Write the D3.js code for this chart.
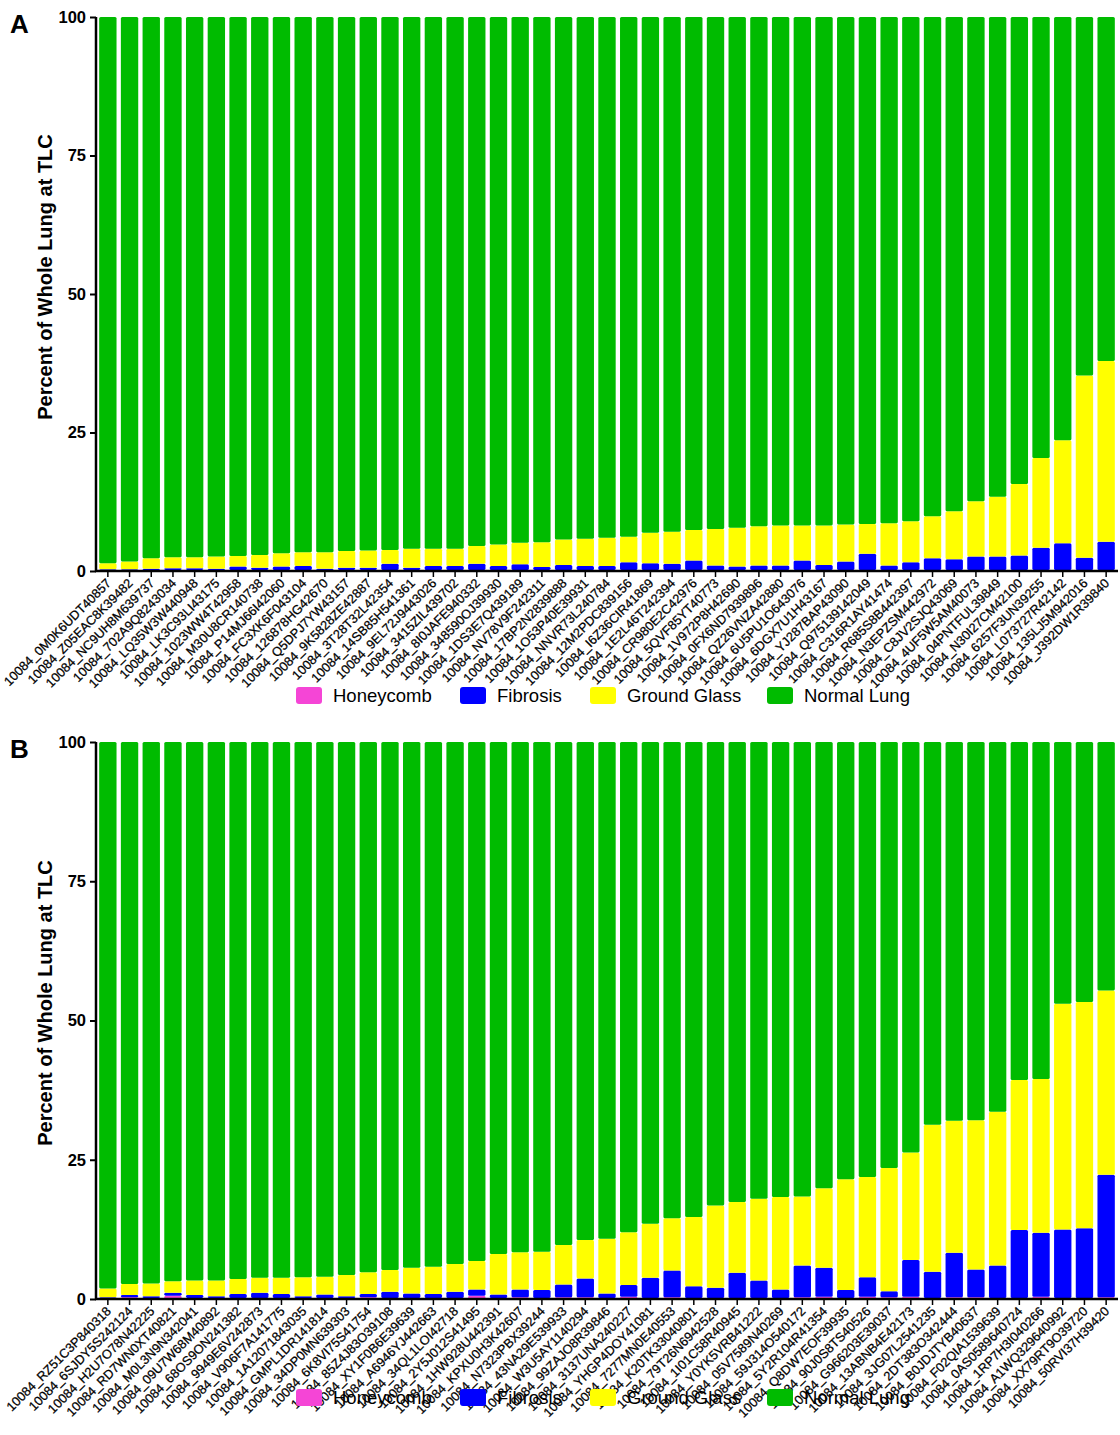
<!DOCTYPE html>
<html>
<head>
<meta charset="utf-8">
<script src="https://cdn.jsdelivr.net/npm/d3@7"></script>
<style>
  body { margin: 0; background: #fff; }
  text { font-family: "Liberation Sans", Arial, sans-serif; }
</style>
</head>
<body>
<script>
// panel A subjects and values (percent of whole lung)
var subjectsA = ["10084_0M0K6UDT40857","10084_Z05EAC8K39482","10084_NC9UH8M639737","10084_702A9Q8243034","10084_LQ35W3W440948","10084_LK3C93LI43175","10084_1023WW4T42958","10084_M30U8CR140738","10084_P14MJ66I42060","10084_FC3XK6F043104","10084_126878HG42670","10084_Q5DPJ7YW43157","10084_9K5828ZE42887","10084_3T28T32L42354","10084_14SB85H541361","10084_9EL72J9443026","10084_3415ZIL439702","10084_8I0JAFE940332","10084_348590OJ39930","10084_1DS3E7Q439189","10084_NV78V9F242311","10084_17BP2N2839888","10084_1O53P40E39931","10084_NNVR73L240784","10084_12M2PDC839156","10084_I6Z36CIR41869","10084_1E2L46T242394","10084_CR980E2C42976","10084_5QVF85YT40773","10084_1V972P8H42690","10084_0FX6ND7939896","10084_QZ26VNZA42880","10084_6U5PU1O643076","10084_6DGX7U1H43167","10084_YJ287BAP43090","10084_Q975139142049","10084_C316R1AY41474","10084_R685S8B442397","10084_N3EPZSM442972","10084_C8JV2SJQ43069","10084_4UF5W5AM40073","10084_04PNTFUL39849","10084_N30I27CM42100","10084_6257F3UN39255","10084_L073727R42142","10084_135LJ5M942016","10084_J392DW1R39840"];
var honeycombA = [0.2,0.2,0.2,0.2,0.2,0.2,0.2,0.2,0.2,0.2, 0.2,0.2,0.2,0.2,0.2,0.2,0.2,0.2,0.2,0.2, 0.2,0.2,0.2,0.2,0.2,0.2,0.2,0.2,0.2,0.2, 0.2,0.2,0.2,0.2,0.2,0.2,0.2,0.2,0.2,0.2, 0.2,0.2,0.2,0.2,0.2,0.2,0.2];
var fibrosisA = [0.1,0.1,0.2,0.3,0.3,0.2,0.6,0.4,0.6,0.7, 0.2,0.4,0.4,1.1,0.4,0.7,0.7,1.1,0.7,1.0, 0.5,0.9,0.7,0.7,1.4,1.2,1.1,1.7,0.8,0.6, 0.8,0.8,1.7,0.9,1.5,2.9,0.8,1.4,2.1,1.9, 2.4,2.4,2.6,4.0,4.8,2.2,5.1];
var groundGlassA = [1.1,1.4,1.9,2.0,2.0,2.2,1.9,2.3,2.4,2.5, 3.0,3.0,3.1,2.5,3.4,3.1,3.1,3.2,3.9,3.9, 4.5,4.6,4.9,5.1,4.6,5.5,5.8,5.5,6.6,7.0, 7.1,7.2,6.3,7.1,6.7,5.4,7.6,7.4,7.6,8.7, 10.0,10.8,12.9,16.2,18.6,32.9,32.6];
var normalA = [98.6,98.3,97.7,97.5,97.5,97.4,97.3,97.1,96.8,96.6, 96.6,96.4,96.3,96.2,96.0,96.0,96.0,95.5,95.2,94.9, 94.8,94.3,94.2,94.0,93.8,93.1,92.9,92.6,92.4,92.2, 91.9,91.8,91.8,91.8,91.6,91.5,91.4,91.0,90.1,89.2, 87.4,86.6,84.3,79.6,76.4,64.7,62.1];

// panel B subjects and values
var subjectsB = ["10084_RZ51C3P840318","10084_6SJDY5S242124","10084_H2U7O78N42225","10084_RD7WN0XT40821","10084_M0L3N9N342041","10084_09U7W68M40892","10084_68OS9ON241382","10084_9949E6V242873","10084_V906F7A141775","10084_1A12071843035","10084_GMPL1DR141814","10084_34DP0MN639303","10084_6K8VI75S41754","10084_85Z4J83O39108","10084_XY1F0B6E39639","10084_A6946YJ442663","10084_34QL1LOI42718","10084_2Y5J012S41495","10084_1HW928U442391","10084_KPXU0H3K42607","10084_N7323PBX39244","10084_43NA29E539933","10084_W3U5AY1140294","10084_99ZAJO8R39846","10084_3137UNA240227","10084_YHGP4DOY41081","10084_7277MN0E40553","10084_K20TK33040801","10084_79T26N6942528","10084_1I01C58R40945","10084_Y0YK5VRB41222","10084_05V7589N40269","10084_59J314O540172","10084_5Y2R104R41354","10084_Q8DW7EOF39935","10084_90J0S8TS40526","10084_G966203E39037","10084_13ABNB4E42173","10084_3JG07L2541235","10084_2DT383O342444","10084_B0JDJTYB40637","10084_F02QIA1539639","10084_0AS0589640724","10084_1RP7H3I040266","10084_A1WQ329640992","10084_XX79RT9O39720","10084_50RVI37H39420"];
var honeycombB = [0.2,0.3,0.2,0.6,0.2,0.2,0.2,0.2,0.2,0.2, 0.2,0.2,0.3,0.2,0.2,0.2,0.2,0.6,0.2,0.3, 0.2,0.3,0.3,0.2,0.4,0.2,0.3,0.2,0.2,0.2, 0.2,0.2,0.3,0.4,0.2,0.4,0.3,0.4,0.2,0.3, 0.3,0.2,0.2,0.4,0.2,0.2,0.3];
var fibrosisB = [0.1,0.4,0.3,0.5,0.5,0.3,0.7,0.9,0.7,0.3, 0.6,0.3,0.6,1.1,0.8,0.7,1.1,1.1,0.6,1.4, 1.4,2.3,3.4,0.8,2.1,3.6,4.8,2.1,1.8,4.5, 3.1,1.5,5.7,5.2,1.4,3.5,1.1,6.6,4.7,8.0, 5.0,5.8,12.2,11.5,12.3,12.5,22.0];
var groundGlassB = [1.6,2.0,2.3,2.1,2.6,2.8,2.7,2.7,2.9,3.4, 3.2,3.8,3.9,3.9,4.6,4.9,5.0,5.1,7.3,6.7, 6.9,7.1,6.9,9.8,9.5,9.7,9.4,12.4,14.8,12.7, 14.7,16.6,12.4,14.3,19.9,18.0,22.1,19.3,26.4,23.7, 26.8,27.6,26.9,27.6,40.5,40.6,33.1];
var normalB = [98.1,97.3,97.2,96.8,96.7,96.7,96.4,96.2,96.2,96.1, 96.0,95.7,95.2,94.8,94.4,94.2,93.7,93.2,91.9,91.6, 91.5,90.3,89.4,89.2,88.0,86.5,85.5,85.3,83.2,82.6, 82.0,81.7,81.6,80.1,78.5,78.1,76.5,73.7,68.7,68.0, 67.9,66.4,60.7,60.5,47.0,46.7,44.6];

var yTicks = [0, 25, 50, 75, 100];
var keys = ["Honeycomb", "Fibrosis", "Ground Glass", "Normal Lung"];
var colors = ["#f545d6", "#0000ff", "#ffff00", "#00bb00"];

var W = 1120, H = 1435;
var svg = d3.select("body").append("svg")
  .attr("width", W)
  .attr("height", H);

var color = d3.scaleOrdinal().domain(keys).range(colors);

function panel(letter, subjects, series, top, bottom, legendY, titleY) {
  var rows = subjects.map(function(s, i) {
    var r = { id: s };
    keys.forEach(function(k, j) { r[k] = series[j][i]; });
    return r;
  });

  var x = d3.scaleBand()
    .domain(subjects)
    .range([97, 1117])
    .paddingInner(0.2)
    .paddingOuter(0.1);

  var y = d3.scaleLinear().domain([0, 100]).range([bottom, top]);

  var stacked = d3.stack().keys(keys)(rows);

  var g = svg.append("g");

  g.selectAll("g.layer")
    .data(stacked)
    .enter()
    .append("g")
    .attr("fill", function(d) { return color(d.key); })
    .selectAll("rect")
    .data(function(d) { return d; })
    .enter()
    .append("rect")
    .attr("x", function(d) { return x(d.data.id); })
    .attr("width", x.bandwidth())
    .attr("y", function(d) { return y(d[1]); })
    .attr("height", function(d) { return Math.max(0, y(d[0]) - y(d[1])); })
    .attr("rx", 1.5);

  // y axis
  var yAxis = g.append("g")
    .attr("transform", "translate(96,0)")
    .call(d3.axisLeft(y).tickValues(yTicks).tickSize(6).tickPadding(4));
  yAxis.select(".domain").attr("stroke-width", 2.5).attr("d", "M0," + (bottom + 1) + "V" + top);
  yAxis.selectAll(".tick line").attr("stroke-width", 2);
  yAxis.selectAll("text")
    .attr("font-size", 16.5)
    .attr("font-weight", "bold")
    .attr("fill", "#000")
    .style("font-family", "'Liberation Sans', Arial, sans-serif");

  // x axis
  var xAxis = g.append("g")
    .attr("transform", "translate(0," + bottom + ")")
    .call(d3.axisBottom(x).tickSize(6).tickSizeOuter(0));
  xAxis.select(".domain").attr("stroke-width", 2.5).attr("d", "M95,0H1118");
  xAxis.selectAll(".tick line").attr("stroke-width", 1.5);
  xAxis.selectAll("text")
    .attr("font-size", 12.8)
    .attr("fill", "#000")
    .attr("stroke", "#000")
    .attr("stroke-width", 0.25)
    .attr("text-anchor", "end")
    .attr("dy", 0)
    .attr("y", 0)
    .attr("transform", "translate(4,13) rotate(-45)")
    .style("font-family", "'Liberation Sans', Arial, sans-serif");

  // axis title
  g.append("text")
    .attr("transform", "translate(52," + titleY + ") rotate(-90)")
    .attr("text-anchor", "middle")
    .attr("font-size", 20)
    .attr("font-weight", "bold")
    .text("Percent of Whole Lung at TLC");

  // panel letter
  g.append("text")
    .attr("x", 10)
    .attr("y", top + 16)
    .attr("font-size", 26)
    .attr("font-weight", "bold")
    .text(letter);

  // legend
  var legX = [296, 460, 590, 767];
  var leg = g.selectAll("g.leg")
    .data(keys)
    .enter()
    .append("g")
    .attr("transform", function(d, i) { return "translate(" + legX[i] + "," + legendY + ")"; });
  leg.append("rect")
    .attr("x", 0)
    .attr("y", -8)
    .attr("width", 26)
    .attr("height", 17)
    .attr("rx", 3)
    .attr("fill", function(d) { return color(d); });
  leg.append("text")
    .attr("x", 37)
    .attr("y", 7)
    .attr("font-size", 18.5)
    .text(function(d) { return d; });
}

panel("A", subjectsA, [honeycombA, fibrosisA, groundGlassA, normalA], 17, 571, 695, 277);
panel("B", subjectsB, [honeycombB, fibrosisB, groundGlassB, normalB], 742, 1299, 1397, 1003);
</script>
</body>
</html>
